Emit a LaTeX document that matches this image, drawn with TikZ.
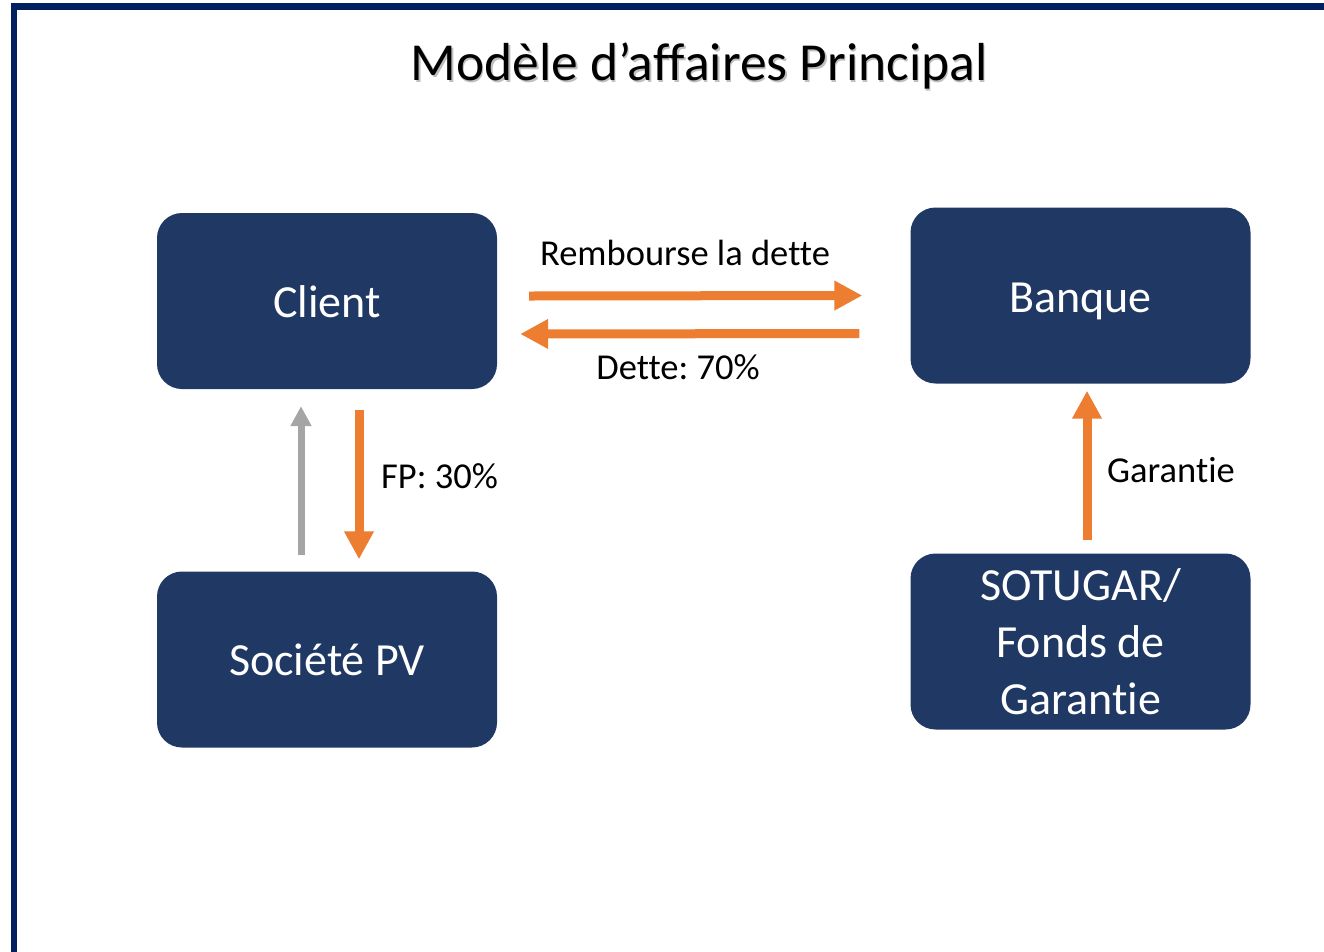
\documentclass[tikz,border=0pt]{standalone}
\usepackage{fontspec}
\setmainfont[Ligatures={NoCommon}]{Carlito}
\usetikzlibrary{arrows.meta}
\definecolor{boxblue}{HTML}{203864}
\definecolor{framebl}{HTML}{002060}
\definecolor{arrorange}{HTML}{ED7D31}
\definecolor{arrgray}{HTML}{A5A5A5}
\tikzset{
  box/.style={draw=none, fill=boxblue, rounded corners=25pt, minimum width=340pt, minimum height=176pt, inner sep=0pt, text=white, align=center, font=\fontsize{46}{57}\selectfont},
  onebox/.style={box, text height=43pt, text depth=10pt},
  oarr/.style={draw=arrorange, line width=9pt, -{Triangle[length=28pt,width=28pt]}},
  garr/.style={draw=arrgray, line width=7pt, -{Triangle[length=20pt,width=20pt]}},
  lbl/.style={inner sep=0pt, font=\fontsize{36.5}{44}\selectfont, text=black},
  ttl/.style={inner sep=0pt, font=\fontsize{53.5}{62}\selectfont}
}
\begin{document}
\frenchspacing
\begin{tikzpicture}[x=1pt,y=-1pt]
\useasboundingbox (0,0) rectangle (1324,951);
\begin{scope}
\clip (0,0) rectangle (1324,951);
\draw[framebl, line width=6.5pt] (14,960) -- (14,6.5) -- (1340,6.5);
\end{scope}
\node[ttl, text=black!25] at (700.5,67.5) {Modèle d’affaires Principal};
\node[ttl] (title) at (699,66) {Modèle d’affaires Principal};
\node[onebox] (client) at (327,301) {Client};
\node[onebox] (banque) at (1080.5,295.5) {Banque};
\node[box] (societe) at (327,659.5) {Société PV};
\node[box] (sotugar) at (1080.5,641.5) {SOTUGAR/\\Fonds de\\Garantie};
\draw[oarr] ([shift={(32,-5)}]client.east) -- ([shift={(-48,0)}]banque.west);
\draw[oarr] ([shift={(-51,38)}]banque.west) -- ([shift={(23,33)}]client.east);
\draw[garr] ([shift={(-26,-16)}]societe.north) -- ([shift={(-26,17)}]client.south);
\draw[oarr] ([shift={(32,21)}]client.south) -- ([shift={(32,-12)}]societe.north);
\draw[oarr] ([shift={(6.5,-13)}]sotugar.north) -- ([shift={(6.5,7)}]banque.south);
\node[lbl] (l1) at (685,253) {Rembourse la dette};
\node[lbl] (l2) at (678,367) {Dette: 70\%};
\node[lbl, anchor=west] (l3) at (381,476) {FP: 30\%};
\node[lbl, anchor=west] (l4) at (1107,470) {Garantie};
\end{tikzpicture}
\end{document}
